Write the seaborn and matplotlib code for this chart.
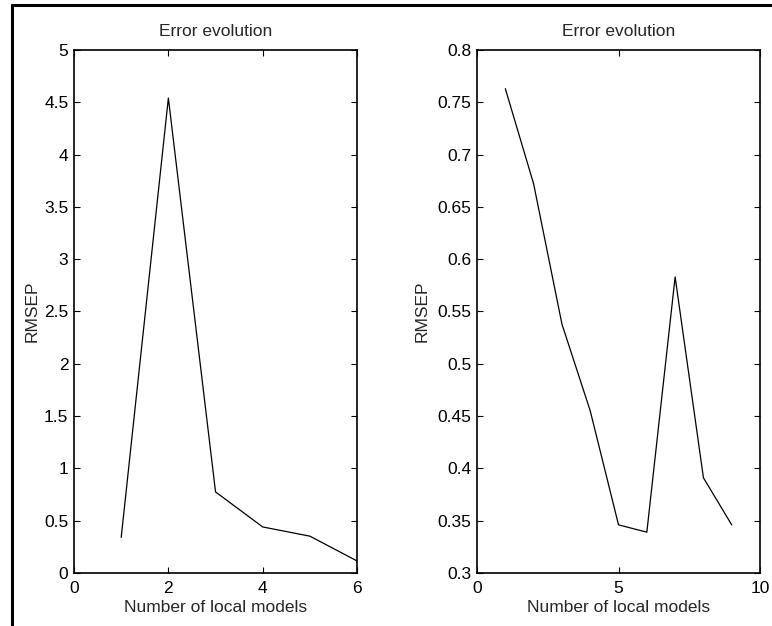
import numpy as np
import pandas as pd
import matplotlib
matplotlib.use("Agg")
import matplotlib.pyplot as plt
import seaborn as sns
from matplotlib.lines import Line2D

# Datos
n_left = [1, 2, 3, 4, 5, 6]
rmsep_left = [0.34, 4.54, 0.775, 0.44, 0.352, 0.115]
n_right = [1, 2, 3, 4, 5, 6, 7, 8, 9]
rmsep_right = [0.763, 0.672, 0.538, 0.455, 0.346, 0.339, 0.583, 0.391, 0.346]

xticks_left = [0, 2, 4, 6]
yticks_left = [0, 0.5, 1, 1.5, 2, 2.5, 3, 3.5, 4, 4.5, 5]
xticks_right = [0, 5, 10]
yticks_right = [0.3, 0.35, 0.4, 0.45, 0.5, 0.55, 0.6, 0.65, 0.7, 0.75, 0.8]

FS = 12.5

sns.set_style("ticks")
plt.rcParams["font.family"] = ["Liberation Sans", "DejaVu Sans"]
plt.rcParams["font.size"] = FS

fig = plt.figure(figsize=(7.72, 6.26), dpi=100)
ax1 = fig.add_axes([0.0959, 0.0847, 0.3666, 0.8355])
ax2 = fig.add_axes([0.6179, 0.0847, 0.3666, 0.8355])

df_left = pd.DataFrame({"n": n_left, "rmsep": rmsep_left})
df_right = pd.DataFrame({"n": n_right, "rmsep": rmsep_right})

for ax, df, xt, yt, xlim, ylim, ylpad in [
    (ax1, df_left, xticks_left, yticks_left, (0, 6), (0, 5), 3),
    (ax2, df_right, xticks_right, yticks_right, (0, 10), (0.3, 0.8), 6),
]:
    sns.lineplot(data=df, x="n", y="rmsep", ax=ax, color="black", linewidth=0.9)
    ax.set_xlim(*xlim)
    ax.set_ylim(*ylim)
    ax.set_xticks(xt)
    ax.set_xticklabels([f"{v:g}" for v in xt])
    ax.set_yticks(yt)
    ax.set_yticklabels([f"{v:g}" for v in yt])
    ax.tick_params(direction="in", top=True, right=True, length=4, width=0.8,
                   labelsize=FS, colors="black")
    ax.tick_params(axis="x", pad=6)
    ax.tick_params(axis="y", pad=4)
    for s in ax.spines.values():
        s.set_visible(True)
        s.set_linewidth(1.2)
        s.set_color("black")
    ax.set_title("Error evolution", fontsize=FS, pad=10)
    ax.set_xlabel("Number of local models", fontsize=FS, labelpad=3)
    ax.set_ylabel("RMSEP", fontsize=FS, labelpad=ylpad)

# Marco exterior (solo izquierda y arriba visibles)
fig.add_artist(Line2D([0.0149, 0.0149], [0, 0.992], transform=fig.transFigure,
                      color="black", linewidth=2.2))
fig.add_artist(Line2D([0.0149, 1.0], [0.992, 0.992], transform=fig.transFigure,
                      color="black", linewidth=2.2))

fig.savefig("out.png", dpi=100, facecolor="white")
